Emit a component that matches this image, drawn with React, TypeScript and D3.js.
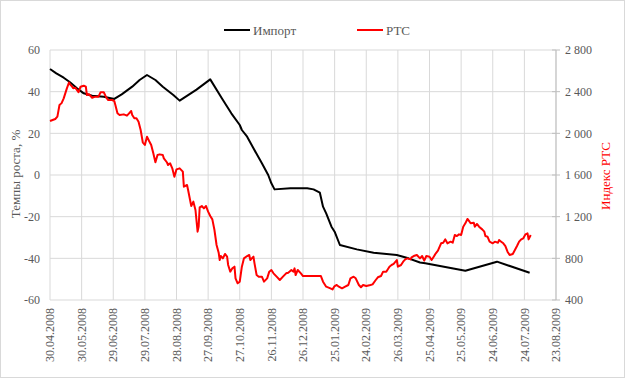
import React from "react";
import * as d3 from "d3";

const START = "30.04.2008";
const xTickLabels = [
  "30.04.2008", "30.05.2008", "29.06.2008", "29.07.2008", "28.08.2008", "27.09.2008",
  "27.10.2008", "26.11.2008", "26.12.2008", "25.01.2009", "24.02.2009", "26.03.2009",
  "25.04.2009", "25.05.2009", "24.06.2009", "24.07.2009", "23.08.2009",
];
const leftTicks = [-60, -40, -20, 0, 20, 40, 60];
const rightTicks = [400, 800, 1200, 1600, 2000, 2400, 2800];
const rightTickLabels = ["400", "800", "1 200", "1 600", "2 000", "2 400", "2 800"];

// Импорт: day offset from START, growth rate %
const importDays = [0, 6, 13, 19, 25, 32, 40, 51, 61, 68, 78, 85, 92, 100, 107, 117, 123, 139, 152, 163, 172, 180, 182, 187, 193, 201, 207, 210, 213, 228, 244, 250, 256, 259, 262, 267, 270, 275, 291, 307, 329, 340, 351, 356, 394, 424, 455];
const importValues = [50.9, 48.8, 46.7, 44.5, 41.9, 39.2, 38, 37.6, 36.5, 38.7, 42.4, 45.6, 48, 45.6, 42.4, 38.4, 35.7, 41, 45.9, 36.8, 29.6, 24, 21.6, 18.4, 12.8, 5.6, 0, -4, -6.9, -6.4, -6.4, -6.9, -8.5, -15.2, -18.4, -24.8, -27.2, -33.6, -35.7, -37.3, -38.4, -40, -42, -42.4, -46, -41.6, -46.9];

// РТС: day offset from START, index value
const rtsDays = [0, 5, 7, 9, 11, 13, 16, 18, 19, 21, 22, 24, 27, 29, 32, 34, 35, 37, 40, 43, 46, 48, 51, 53, 55, 59, 61, 62, 64, 66, 70, 73, 75, 77, 78, 80, 82, 84, 86, 88, 90, 92, 94, 96, 98, 100, 102, 104, 107, 108, 111, 112, 114, 116, 118, 120, 123, 126, 127, 130, 131, 134, 136, 138, 140, 141, 142, 144, 146, 148, 150, 152, 154, 156, 158, 160, 161, 162, 164, 166, 168, 169, 171, 173, 175, 176, 178, 180, 182, 184, 187, 189, 190, 193, 194, 196, 198, 201, 203, 206, 208, 210, 212, 215, 218, 221, 224, 226, 229, 231, 232, 233, 235, 238, 240, 250, 257, 259, 262, 266, 268, 270, 272, 274, 277, 280, 283, 285, 288, 290, 293, 295, 297, 300, 304, 306, 309, 311, 314, 316, 319, 322, 324, 326, 329, 330, 333, 335, 337, 339, 342, 343, 345, 348, 351, 353, 355, 357, 360, 362, 364, 366, 368, 371, 373, 375, 377, 380, 382, 384, 386, 388, 390, 392, 394, 396, 398, 399, 402, 403, 405, 407, 410, 412, 413, 415, 417, 420, 422, 425, 426, 428, 430, 432, 434, 436, 439, 441, 443, 445, 447, 449, 451, 453, 454, 456];
const rtsValues = [2118, 2138, 2160, 2272, 2290, 2336, 2432, 2488, 2470, 2448, 2432, 2438, 2394, 2448, 2457, 2448, 2368, 2375, 2342, 2352, 2352, 2394, 2394, 2352, 2320, 2320, 2310, 2272, 2192, 2176, 2182, 2170, 2192, 2214, 2176, 2144, 2144, 2112, 2032, 1914, 1888, 1968, 1926, 1888, 1808, 1722, 1792, 1798, 1792, 1760, 1720, 1696, 1712, 1664, 1584, 1654, 1664, 1632, 1488, 1504, 1456, 1302, 1344, 1264, 1056, 1104, 1290, 1302, 1280, 1302, 1248, 1206, 1174, 1072, 928, 854, 784, 822, 800, 842, 816, 736, 672, 704, 720, 608, 560, 576, 720, 800, 822, 832, 784, 816, 752, 640, 624, 624, 576, 608, 672, 688, 656, 624, 592, 624, 656, 662, 688, 672, 704, 640, 688, 656, 630, 630, 630, 576, 528, 512, 502, 534, 544, 528, 512, 528, 544, 608, 624, 608, 544, 522, 544, 534, 544, 550, 592, 618, 630, 672, 672, 720, 736, 746, 784, 720, 736, 768, 790, 800, 790, 810, 822, 832, 800, 822, 778, 822, 816, 784, 816, 848, 874, 944, 950, 982, 944, 960, 950, 1024, 1014, 1030, 1024, 1104, 1136, 1178, 1152, 1136, 1142, 1104, 1130, 1104, 1078, 1056, 1014, 1008, 960, 944, 960, 950, 976, 960, 944, 918, 864, 832, 842, 880, 918, 960, 982, 992, 1030, 1040, 982, 1024];

const W = 625;
const H = 378;
const FONT = "'Liberation Serif', 'Times New Roman', serif";
const GRAY = "#595959";
const GRID = "#d9d9d9";

export default function App() {
  const parse = d3.timeParse("%d.%m.%Y");
  const start = parse(START) as Date;
  const tickDates = xTickLabels.map((s) => parse(s) as Date);
  const margin = { left: 50, right: 556, top: 50, bottom: 300 };

  const x = d3.scaleTime().domain([tickDates[0], tickDates[tickDates.length - 1]]).range([margin.left, margin.right]);
  const yL = d3.scaleLinear().domain([-60, 60]).range([margin.bottom, margin.top]);
  const yR = d3.scaleLinear().domain([400, 2800]).range([margin.bottom, margin.top]);

  const importData = importDays.map((d, i) => ({ date: d3.timeDay.offset(start, d), v: importValues[i] }));
  const rtsData = rtsDays.map((d, i) => ({ date: d3.timeDay.offset(start, d), v: rtsValues[i] }));

  const importLine = d3.line<{ date: Date; v: number }>().x((d) => x(d.date)).y((d) => yL(d.v));
  const rtsLine = d3.line<{ date: Date; v: number }>().x((d) => x(d.date)).y((d) => yR(d.v));

  return (
    <div style={{ position: "absolute", left: 0, top: 0 }}>
      <svg width={W} height={H} style={{ display: "block" }}>
        <rect x={0.5} y={0.5} width={W - 1} height={H - 1} fill="#fff" stroke={GRID} />
        {/* horizontal grid */}
        {leftTicks.map((t) => (
          <line key={"h" + t} x1={margin.left} x2={margin.right} y1={yL(t)} y2={yL(t)} stroke={GRID} strokeWidth={1} />
        ))}
        {/* vertical grid */}
        {tickDates.map((d, i) => (
          <line key={"v" + i} x1={x(d)} x2={x(d)} y1={margin.top} y2={margin.bottom} stroke={GRID} strokeWidth={1} />
        ))}
        {/* right axis */}
        <line x1={margin.right} x2={margin.right} y1={margin.top} y2={margin.bottom} stroke="#bfbfbf" />
        {rightTicks.map((t) => (
          <line key={"rt" + t} x1={margin.right - 4} x2={margin.right + 4} y1={yR(t)} y2={yR(t)} stroke="#bfbfbf" />
        ))}
        {/* left labels */}
        {leftTicks.map((t) => (
          <text key={"ll" + t} x={40} y={yL(t)} dy="0.35em" textAnchor="end" fontFamily={FONT} fontSize={12} fill={GRAY}>
            {t}
          </text>
        ))}
        {/* right labels */}
        {rightTicks.map((t, i) => (
          <text key={"rl" + t} x={565} y={yR(t)} dy="0.35em" textAnchor="start" fontFamily={FONT} fontSize={12} fill={GRAY}>
            {rightTickLabels[i]}
          </text>
        ))}
        {/* x labels */}
        {tickDates.map((d, i) => (
          <text
            key={"xl" + i}
            transform={`translate(${x(d)},308) rotate(-90)`}
            dy="0.35em"
            textAnchor="end"
            fontFamily={FONT}
            fontSize={12}
            fill={GRAY}
          >
            {xTickLabels[i]}
          </text>
        ))}
        {/* axis titles */}
        <text transform="translate(15,174) rotate(-90)" dy="0.35em" textAnchor="middle" fontFamily={FONT} fontSize={13} fill={GRAY}>
          Темпы роста, %
        </text>
        <text transform="translate(605,176) rotate(-90)" dy="0.35em" textAnchor="middle" fontFamily={FONT} fontSize={13} fill="#ff0000">
          Индекс РТС
        </text>
        {/* series */}
        <path d={importLine(importData) || ""} fill="none" stroke="#000" strokeWidth={2} strokeLinejoin="round" />
        <path d={rtsLine(rtsData) || ""} fill="none" stroke="#ff0000" strokeWidth={2} strokeLinejoin="round" />
        {/* legend */}
        <line x1={224} x2={250} y1={30} y2={30} stroke="#000" strokeWidth={2} />
        <text x={253} y={30} dy="0.35em" fontFamily={FONT} fontSize={13} fill={GRAY}>Импорт</text>
        <line x1={357} x2={383} y1={30} y2={30} stroke="#ff0000" strokeWidth={2} />
        <text x={386} y={30} dy="0.35em" fontFamily={FONT} fontSize={13} fill={GRAY}>РТС</text>
      </svg>
    </div>
  );
}
